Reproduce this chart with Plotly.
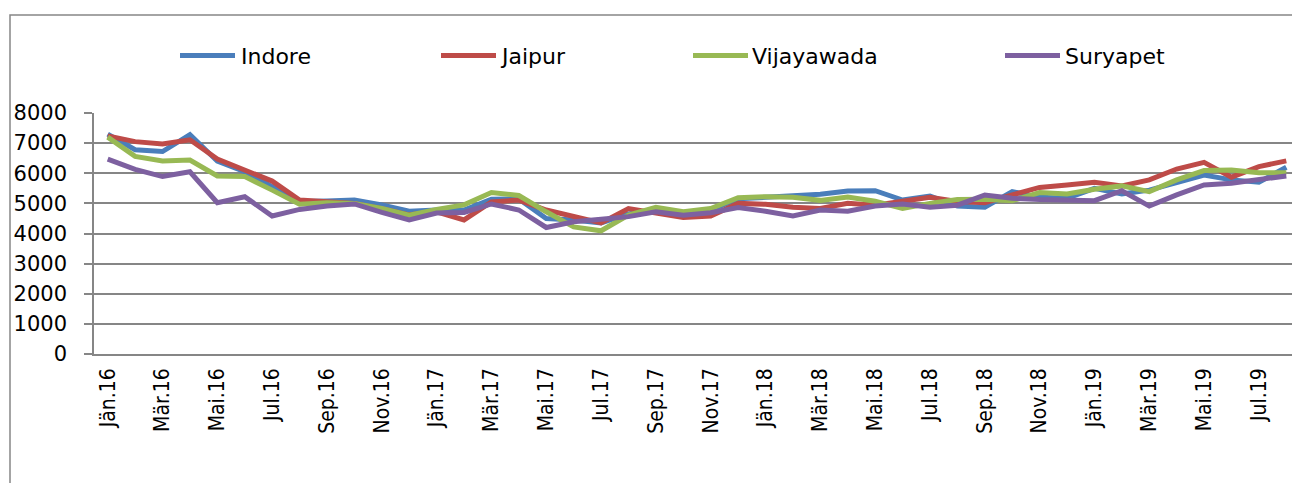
import plotly.graph_objects as go

# ---- data ----
month_names = ["Jän", "Feb", "Mär", "Apr", "Mai", "Jun", "Jul", "Aug", "Sep", "Okt", "Nov", "Dez"]
years = ["16", "17", "18", "19"]
months = [f"{m}.{y}" for y in years for m in month_names][:44]

indore = [7300, 6780, 6720, 7280, 6400, 6050, 5550, 5060, 5080, 5110, 4950, 4740,
          4780, 4780, 5140, 5150, 4500, 4450, 4350, 4650, 4800, 4700, 4780, 5150,
          5200, 5250, 5300, 5410, 5420, 5110, 5240, 4910, 4870, 5390, 5200, 5170,
          5500, 5310, 5440, 5690, 5940, 5780, 5700, 6200]
jaipur = [7240, 7050, 6970, 7110, 6470, 6110, 5740, 5110, 5060, 5000, 4820, 4620,
          4720, 4450, 5050, 5110, 4780, 4560, 4350, 4830, 4670, 4530, 4580, 5000,
          4970, 4870, 4830, 5000, 4940, 5060, 5200, 5060, 5020, 5280, 5530, 5610,
          5700, 5580, 5780, 6140, 6360, 5870, 6220, 6410]
vijayawada = [7200, 6560, 6410, 6440, 5910, 5890, 5440, 4970, 5020, 5000, 4830, 4610,
              4800, 4950, 5360, 5260, 4720, 4220, 4090, 4610, 4870, 4720, 4830, 5190,
              5220, 5200, 5100, 5210, 5070, 4830, 5000, 5130, 5140, 5090, 5360, 5310,
              5470, 5580, 5390, 5780, 6090, 6110, 6020, 6020]
suryapet = [6470, 6130, 5890, 6050, 5020, 5220, 4580, 4800, 4910, 4980, 4700, 4450,
            4680, 4700, 4980, 4780, 4200, 4390, 4470, 4560, 4720, 4610, 4690, 4860,
            4740, 4580, 4780, 4740, 4910, 4980, 4870, 4940, 5280, 5170, 5130, 5090,
            5090, 5420, 4910, 5280, 5610, 5670, 5800, 5910]

series_names = ["Indore", "Jaipur", "Vijayawada", "Suryapet"]
series_values = [indore, jaipur, vijayawada, suryapet]
colors = ["#4A7EBB", "#BE4B48", "#98B954", "#7D60A0"]

y_ticks = list(range(0, 8001, 1000))

# ---- layout geometry ----
# The page body has an 8px margin, so the figure is drawn 8px right/down of the
# window origin; geometry below is given in window pixels and shifted by OFF.
OFF = 8
W, H = 1300 - OFF, 483 - OFF
PLOT_LEFT, PLOT_TOP, PLOT_BOTTOM, PLOT_RIGHT = 94, 113, 354, 1300
L = PLOT_LEFT - OFF
T = PLOT_TOP - OFF
B = H - (PLOT_BOTTOM - OFF)
R = W - (PLOT_RIGHT - OFF)
PW, PH = W - L - R, H - T - B
GRID = "#868686"
FONT = "DejaVu Sans"
XFONT = "DejaVu Sans Condensed, DejaVu Sans"


def px_x(px):
    return (px - OFF - L) / PW


def px_y(py):
    return ((PLOT_BOTTOM - OFF) - (py - OFF)) / PH


idx = list(range(len(months)))

fig = go.Figure()
for name, vals, col in zip(series_names, series_values, colors):
    fig.add_trace(go.Scatter(
        x=idx, y=vals, mode="lines", name=name,
        line=dict(color=col, width=5),
        showlegend=False, hoverinfo="x+y+name",
    ))

label_idx = idx[::2]
fig.update_layout(
    width=W, height=H,
    margin=dict(l=L, r=R, t=T, b=B, pad=0),
    paper_bgcolor="white", plot_bgcolor="white",
    xaxis=dict(
        range=[-0.5, len(months) - 0.5],
        tickmode="array", tickvals=label_idx,
        ticktext=[months[i] for i in label_idx],
        tickangle=-90, ticks="outside", ticklen=2, tickcolor="rgba(0,0,0,0)",
        tickfont=dict(family=XFONT, size=21, color="black"),
        showgrid=False, zeroline=False,
        showline=True, linecolor=GRID, linewidth=1.5,
        ticklabelstandoff=2,
    ),
    xaxis2=dict(
        overlaying="x", anchor="y",
        range=[-0.5, len(months) - 0.5],
        tickmode="array", tickvals=[i - 0.5 for i in idx[::2]] + [len(months) - 0.5],
        ticks="outside", ticklen=7, tickcolor=GRID, tickwidth=1.5,
        showticklabels=False, showgrid=False, zeroline=False, showline=False,
    ),
    yaxis=dict(
        range=[0, 8000], tickmode="array", tickvals=y_ticks,
        ticks="outside", ticklen=8, tickcolor=GRID, tickwidth=1.5,
        tickfont=dict(family=FONT, size=21, color="black"),
        showgrid=True, gridcolor=GRID, gridwidth=1.5,
        zeroline=False, showline=True, linecolor=GRID, linewidth=1.5,
        ticklabelstandoff=13,
    ),
)

# outer chart border
fig.add_shape(type="rect", xref="paper", yref="paper",
              x0=px_x(10), x1=px_x(1320), y0=px_y(500), y1=px_y(15),
              line=dict(color=GRID, width=1.5), fillcolor="rgba(0,0,0,0)", layer="below")

# manual legend
legend_pos = [(180, 235, 239), (441, 496, 498), (693, 748, 750), (1005, 1060, 1063)]
leg_y = 55.5
for name, col, (x0, x1, tx) in zip(series_names, colors, legend_pos):
    fig.add_shape(type="line", xref="paper", yref="paper",
                  x0=px_x(x0), x1=px_x(x1), y0=px_y(leg_y), y1=px_y(leg_y),
                  line=dict(color=col, width=5))
    fig.add_annotation(xref="paper", yref="paper", x=px_x(tx), y=px_y(leg_y + 1),
                       text=name, showarrow=False, xanchor="left", yanchor="middle",
                       font=dict(family=FONT, size=22, color="black"))

fig.write_html("out.html")
